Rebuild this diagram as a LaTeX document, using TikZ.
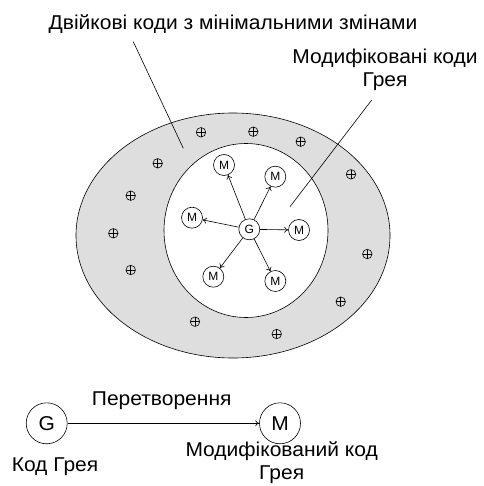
\documentclass[tikz,border=0pt]{standalone}
\usepackage{fontspec}
\setmainfont{Liberation Sans}
\newfontfamily\lblfont[FakeStretch=1.05]{Liberation Sans}
\usetikzlibrary{arrows.meta}
\begin{document}
\begin{tikzpicture}[x=1pt,y=-1pt,
 lbl/.style={font=\lblfont\fontsize{20}{23}\selectfont, align=center, inner sep=0},
 sm/.style={circle,draw,line width=0.6pt,minimum size=21pt,inner sep=0,font=\fontsize{12}{12}\selectfont,fill=white},
 big/.style={circle,draw,line width=0.6pt,minimum size=41pt,inner sep=0,font=\lblfont\fontsize{20}{20}\selectfont},
 plus/.style={circle,draw,line width=0.6pt,minimum size=9.5pt,inner sep=0,
   path picture={\draw[line width=0.6pt] (path picture bounding box.north) -- (path picture bounding box.south)
     (path picture bounding box.west) -- (path picture bounding box.east);}},
 arr/.style={-{To[length=4pt,width=6pt]}, line width=0.6pt},
 ln/.style={line width=0.6pt}]
\useasboundingbox (0,0) rectangle (483,486);
\draw[ln, fill=black!13] (233,235.5) ellipse [x radius=157pt, y radius=122.5pt];
\draw[ln, fill=white] (246,230.5) ellipse [x radius=82pt, y radius=87pt];

% plus symbols
\foreach \px/\py [count=\i] in {201/132.3, 253.3/131.7, 300.7/141.7, 157.7/163.3, 351/174.3, 130.7/195.7,
  113.3/233.3, 367.3/254, 130.7/270, 340.7/301.7, 195/321.7, 276.7/334}
  \node[plus] (p\i) at (\px,\py) {};

% inner graph
\node[sm] (g) at (249.3,229.3) {G};
\node[sm] (m1) at (224,165) {M};
\node[sm] (m2) at (275.3,176.7) {M};
\node[sm] (m3) at (192,217.7) {M};
\node[sm] (m4) at (299,230) {M};
\node[sm] (m5) at (213.3,276.7) {M};
\node[sm] (m6) at (275.3,281) {M};
\foreach \m in {m1,m2,m3,m4,m5,m6} \draw[arr] (g) -- (\m);

% labels and leaders
\node[lbl] (t1) at (233,24) {Двійкові коди з мінімальними змінами};
\node[lbl] (t2) at (385,70) {Модифіковані коди\\Грея};
\coordinate (a1) at (133.3,41.7);
\coordinate (b1) at (183.3,148.3);
\coordinate (a2) at (371.7,100);
\coordinate (b2) at (290,206.7);
\draw[ln] (a1) -- (b1);
\draw[ln] (a2) -- (b2);

% legend
\node[big] (G) at (46.7,423.3) {G};
\node[big] (M) at (280,423.3) {M};
\draw[arr] (G) -- (M);
\node[lbl] (t3) at (161.7,400.7) {Перетворення};
\node[lbl] (t4) at (55,466.7) {Код Грея};
\node[lbl] (t5) at (281.7,462.5) {Модифікований код\\Грея};
\end{tikzpicture}
\end{document}
